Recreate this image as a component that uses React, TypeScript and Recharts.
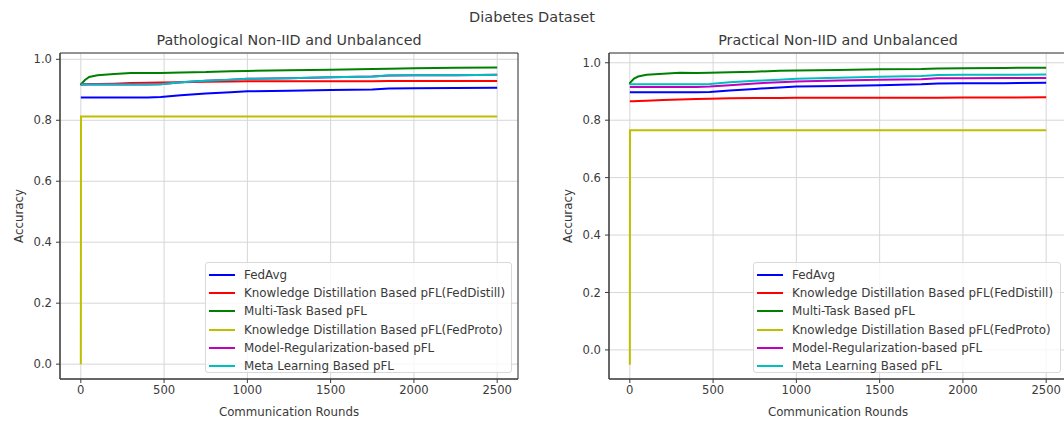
import React from 'react'
import {LineChart, Line, XAxis, YAxis, CartesianGrid, Legend, ReferenceArea} from 'recharts'

const rounds = [0, 1, 25, 50, 100, 200, 300, 400, 480, 600, 750, 900, 1000, 1250, 1500, 1750, 1850, 2000, 2250, 2500]
const xTicks = [0, 500, 1000, 1500, 2000, 2500]
const yTicks = [0, 0.2, 0.4, 0.6, 0.8, 1.0]

const seriesNames = [
  'FedAvg',
  'Knowledge Distillation Based pFL(FedDistill)',
  'Multi-Task Based pFL',
  'Knowledge Distillation Based pFL(FedProto)',
  'Model-Regularization-based pFL',
  'Meta Learning Based pFL',
]
const seriesColors = ['#0000ff', '#ff0000', '#008000', '#bfbf00', '#bf00bf', '#00bfbf']

// Pathological Non-IID and Unbalanced
const pathFedAvg = [0.875, 0.875, 0.875, 0.875, 0.875, 0.875, 0.875, 0.875, 0.876, 0.882, 0.888, 0.892, 0.895, 0.897, 0.899, 0.901, 0.904, 0.905, 0.906, 0.907]
const pathFedDistill = [0.918, 0.918, 0.918, 0.919, 0.919, 0.92, 0.922, 0.923, 0.924, 0.925, 0.926, 0.927, 0.928, 0.928, 0.928, 0.928, 0.929, 0.929, 0.929, 0.929]
const pathMultiTask = [0.915, 0.918, 0.932, 0.942, 0.948, 0.952, 0.955, 0.955, 0.955, 0.957, 0.958, 0.961, 0.962, 0.964, 0.966, 0.968, 0.969, 0.971, 0.972, 0.973]
const pathFedProto = [0.0, 0.812, 0.812, 0.812, 0.812, 0.812, 0.812, 0.812, 0.812, 0.812, 0.812, 0.812, 0.812, 0.812, 0.812, 0.812, 0.812, 0.812, 0.812, 0.812]
const pathModelReg = [0.917, 0.917, 0.917, 0.917, 0.917, 0.917, 0.917, 0.917, 0.918, 0.925, 0.93, 0.933, 0.936, 0.938, 0.941, 0.944, 0.947, 0.948, 0.948, 0.949]
const pathMeta = [0.917, 0.917, 0.917, 0.917, 0.917, 0.917, 0.917, 0.917, 0.918, 0.925, 0.93, 0.933, 0.936, 0.938, 0.941, 0.944, 0.947, 0.948, 0.948, 0.949]

// Practical Non-IID and Unbalanced
const pracFedAvg = [0.897, 0.897, 0.897, 0.897, 0.897, 0.897, 0.897, 0.897, 0.898, 0.903, 0.909, 0.914, 0.917, 0.919, 0.922, 0.925, 0.928, 0.929, 0.929, 0.93]
const pracFedDistill = [0.866, 0.866, 0.866, 0.867, 0.868, 0.87, 0.872, 0.874, 0.875, 0.876, 0.877, 0.877, 0.878, 0.878, 0.878, 0.878, 0.878, 0.879, 0.879, 0.88]
const pracMultiTask = [0.925, 0.93, 0.945, 0.952, 0.958, 0.962, 0.965, 0.964, 0.965, 0.967, 0.969, 0.972, 0.973, 0.975, 0.977, 0.978, 0.98, 0.981, 0.982, 0.983]
const pracFedProto = [-0.052, 0.765, 0.765, 0.765, 0.765, 0.765, 0.765, 0.765, 0.765, 0.765, 0.765, 0.765, 0.765, 0.765, 0.765, 0.765, 0.765, 0.765, 0.765, 0.765]
const pracModelReg = [0.916, 0.916, 0.916, 0.916, 0.916, 0.916, 0.916, 0.916, 0.917, 0.922, 0.928, 0.932, 0.935, 0.938, 0.941, 0.943, 0.946, 0.946, 0.947, 0.947]
const pracMeta = [0.925, 0.925, 0.925, 0.925, 0.925, 0.925, 0.925, 0.925, 0.926, 0.932, 0.937, 0.941, 0.944, 0.948, 0.951, 0.954, 0.957, 0.958, 0.958, 0.959]

const textColor = '#3a3a3a'

const buildRows = (series: number[][]) =>
  rounds.map((r, i) => {
    const row: Record<string, number> = {round: r}
    series.forEach((s, k) => { row['s' + k] = s[i] })
    return row
  })

const LegendBox = () => (
  <div style={{border: '1px solid #d9d9d9', borderRadius: 3, background: 'rgba(255,255,255,0.8)', padding: '3px 4px 2px 3px', boxSizing: 'border-box', height: '100%'}}>
    {seriesNames.map((n, i) => (
      <div key={n} style={{display: 'flex', alignItems: 'center', height: 18.2, fontSize: 11.9, color: textColor, whiteSpace: 'nowrap'}}>
        <span style={{display: 'inline-block', width: 26, height: 2, background: seriesColors[i], marginRight: 9}} />
        {n}
      </div>
    ))}
  </div>
)

type PanelProps = {
  title: string
  series: number[][]
  yDomain: [number, number]
  left: number
  width: number
  margin: {top: number, right: number, bottom: number, left: number}
  legendLeft: number
  legendWidth: number
}

const Panel: React.FC<PanelProps> = ({title, series, yDomain, left, width, margin, legendLeft, legendWidth}) => {
  const rows = buildRows(series)
  const plotLeft = margin.left + 40
  const plotRight = width - margin.right
  return (
    <div style={{position: 'absolute', left, top: 0, width, height: 425}}>
      <div style={{position: 'absolute', top: 30, left: plotLeft, width: plotRight - plotLeft, textAlign: 'center', fontSize: 14.3, lineHeight: '20px', color: textColor}}>{title}</div>
      <LineChart width={width} height={425} data={rows} margin={margin}>
        <CartesianGrid stroke="#d6d6d6" strokeWidth={1} />
        <XAxis dataKey="round" type="number" domain={[-125, 2625]} ticks={xTicks} allowDataOverflow
          height={40} tickSize={4} tickMargin={3} stroke={textColor}
          tick={{fontSize: 11.6, fill: textColor}}
          label={{value: 'Communication Rounds', position: 'insideBottom', offset: 3, fontSize: 11.8, fill: textColor}} />
        <YAxis type="number" domain={yDomain} ticks={yTicks} allowDataOverflow width={40}
          tickSize={4} tickMargin={4} stroke={textColor}
          tickFormatter={(v: number) => v.toFixed(1)}
          tick={{fontSize: 11.6, fill: textColor}}
          label={{value: 'Accuracy', angle: -90, position: 'insideLeft', offset: -1, fontSize: 11.8, fill: textColor, style: {textAnchor: 'middle'}}} />
        <ReferenceArea x1={-125} x2={2625} y1={yDomain[0]} y2={yDomain[1]} fill="none" stroke={textColor} strokeWidth={1} fillOpacity={0} />
        {series.map((_, k) => (
          <Line key={k} dataKey={'s' + k} name={seriesNames[k]} type="linear" stroke={seriesColors[k]}
            strokeWidth={2} dot={false} activeDot={false} isAnimationActive={false} />
        ))}
        <Legend layout="vertical" align="center" verticalAlign="middle" width={legendWidth} height={111}
          wrapperStyle={{left: legendLeft, top: 262}} content={() => <LegendBox />} />
      </LineChart>
    </div>
  )
}

const App: React.FC = () => (
  <div style={{position: 'absolute', left: 0, top: 0, width: 1064, height: 425, overflow: 'hidden', background: '#fff', fontFamily: '"DejaVu Sans", sans-serif'}}>
    <div style={{position: 'absolute', top: 7, left: 0, width: 1064, textAlign: 'center', fontSize: 14.5, lineHeight: '20px', color: textColor}}>Diabetes Dataset</div>
    <Panel title="Pathological Non-IID and Unbalanced"
      series={[pathFedAvg, pathFedDistill, pathMultiTask, pathFedProto, pathModelReg, pathMeta]}
      yDomain={[-0.0487, 1.0207]} left={0} width={540}
      margin={{top: 53, right: 22, bottom: 6, left: 20}} legendLeft={205} legendWidth={307} />
    <Panel title="Practical Non-IID and Unbalanced"
      series={[pracFedAvg, pracFedDistill, pracMultiTask, pracFedProto, pracModelReg, pracMeta]}
      yDomain={[-0.1013, 1.034]} left={540} width={530}
      margin={{top: 53, right: 3, bottom: 6, left: 29}} legendLeft={213} legendWidth={308} />
  </div>
)

export default App
